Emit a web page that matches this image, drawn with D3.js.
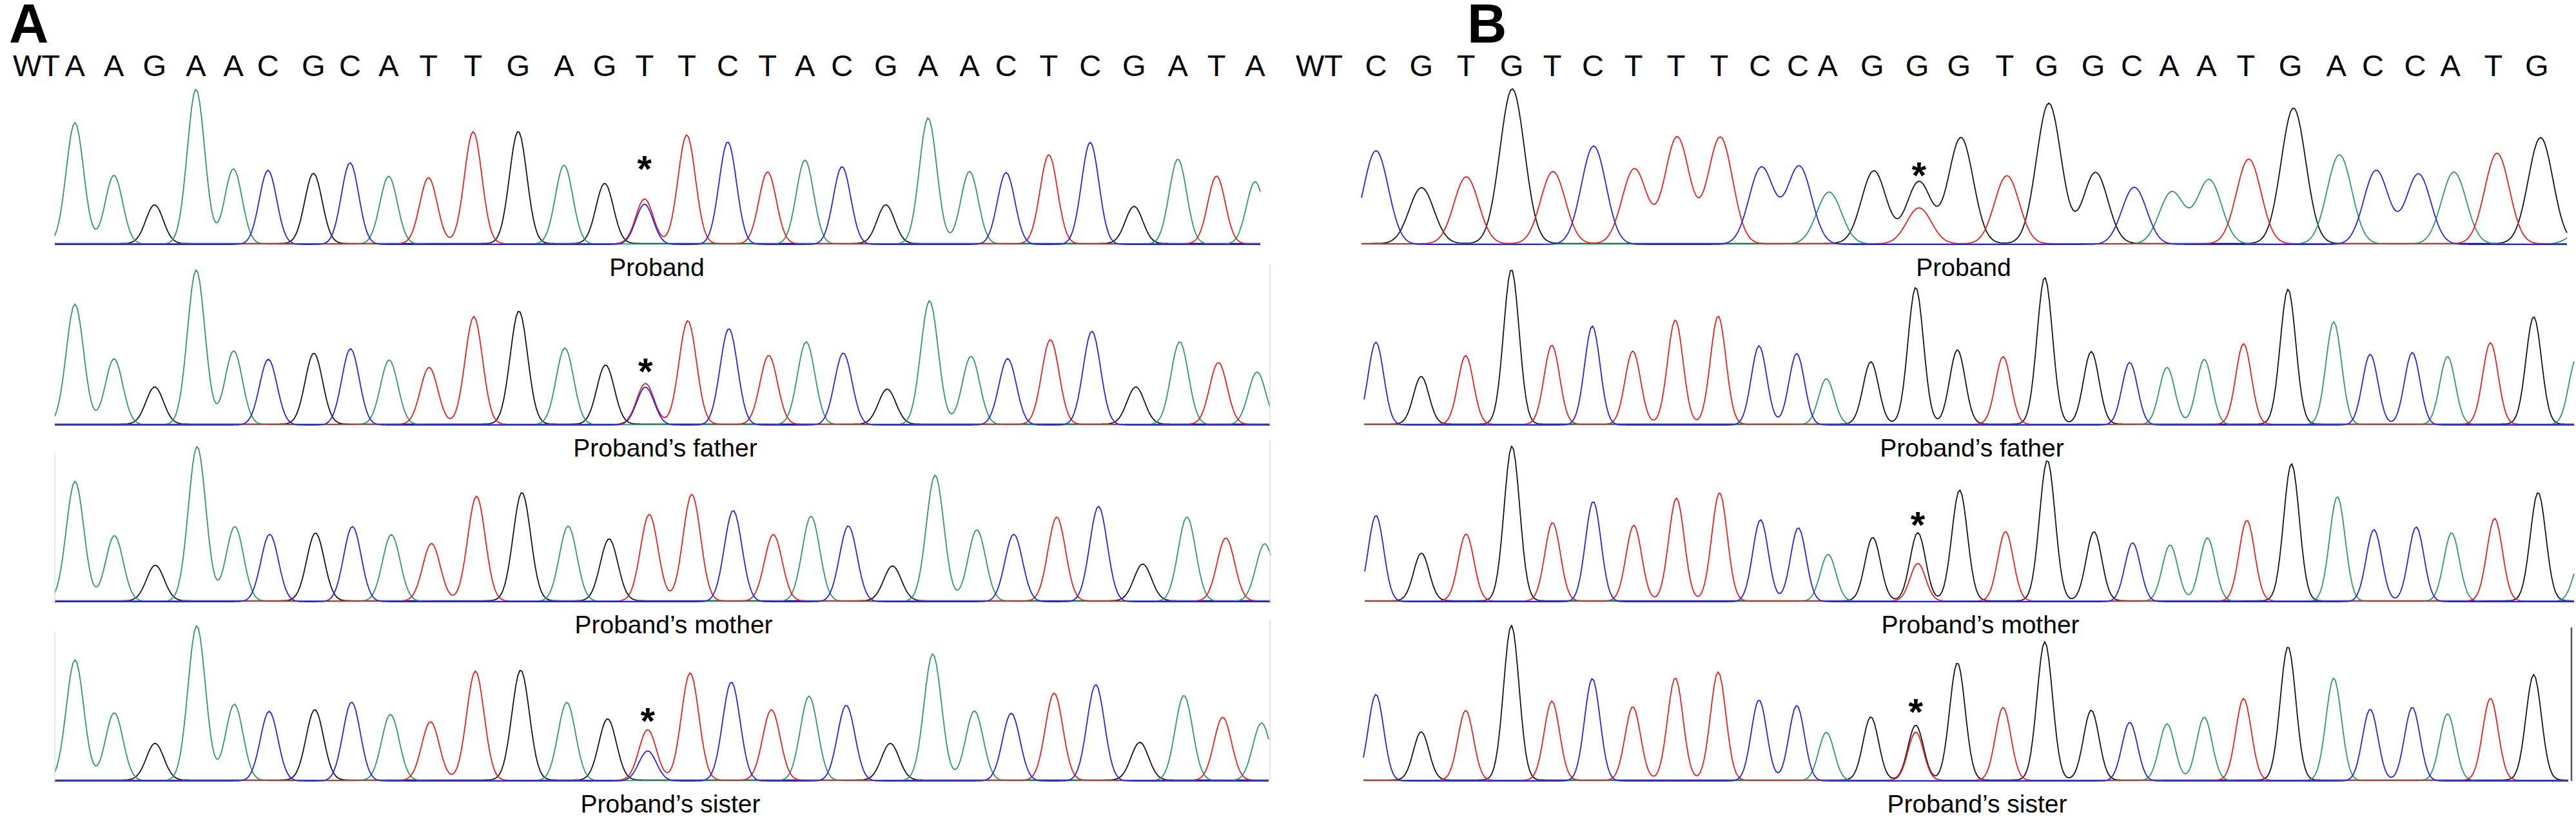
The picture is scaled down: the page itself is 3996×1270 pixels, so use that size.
<!DOCTYPE html>
<html>
<head>
<meta charset="utf-8">
<script src="https://cdn.jsdelivr.net/npm/d3@7"></script>
<style>
  body { margin: 0; background: #fff; }
  text { font-family: "Liberation Sans", Arial, sans-serif; }
</style>
</head>
<body>
<svg id="chart"></svg>
<script>
// ---- data: base calls, peak positions (scan units) and peak heights (relative signal) ----
const seqA = "AAGAACGCATTGAGTTCTACGAACTCGATA".split("");
const posA = [5.0, 14.7, 24.8, 35.1, 44.4, 53.0, 64.3, 73.4, 83.0, 92.9, 104.0, 115.2, 126.6, 136.7, 146.6,
  157.1, 167.3, 177.2, 186.5, 195.7, 206.6, 217.1, 227.4, 236.5, 247.1, 257.4, 268.3, 279.2, 288.8, 298.4];

// last base of B (A) is only the start of a peak at the edge, it is not called
const seqB = "CGTGTCTTTCCAGGGTGGCAATGACCATGA".split("");
const calledB = 29;
const posB = [3.6, 14.9, 26.0, 37.4, 47.5, 57.6, 67.7, 78.3, 89.0, 99.2, 108.6, 116.0, 127.1, 138.3, 148.7,
  160.1, 170.5, 182.1, 191.7, 201.0, 210.3, 220.1, 231.2, 242.6, 251.7, 262.2, 271.0, 281.7, 292.5, 303.2];

const rowNames = ["Proband", "Proband\u2019s father", "Proband\u2019s mother", "Proband\u2019s sister"];

const heightsA = [
  [0.785, 0.444, 0.25, 1.0, 0.486, 0.479, 0.454, 0.528, 0.438, 0.428, 0.725, 0.725, 0.51, 0.389, 0.29,
   0.704, 0.663, 0.465, 0.542, 0.503, 0.25, 0.815, 0.469, 0.465, 0.576, 0.66, 0.24, 0.549, 0.438, 0.403],
  [0.778, 0.425, 0.24, 1.0, 0.476, 0.425, 0.458, 0.493, 0.417, 0.368, 0.696, 0.731, 0.495, 0.382, 0.264,
   0.67, 0.623, 0.446, 0.535, 0.465, 0.226, 0.80, 0.441, 0.429, 0.547, 0.606, 0.24, 0.535, 0.40, 0.34],
  [0.775, 0.424, 0.23, 1.0, 0.483, 0.436, 0.438, 0.486, 0.431, 0.372, 0.678, 0.70, 0.486, 0.40, 0.56,
   0.69, 0.59, 0.43, 0.55, 0.49, 0.225, 0.815, 0.462, 0.436, 0.543, 0.616, 0.237, 0.545, 0.408, 0.372],
  [0.78, 0.438, 0.237, 1.0, 0.493, 0.45, 0.455, 0.51, 0.427, 0.379, 0.706, 0.711, 0.505, 0.396, 0.327,
   0.694, 0.64, 0.457, 0.545, 0.49, 0.237, 0.818, 0.45, 0.438, 0.564, 0.623, 0.244, 0.55, 0.408, 0.372]
];

const heightsB = [
  [0.606, 0.361, 0.433, 1.0, 0.467, 0.636, 0.485, 0.69, 0.69, 0.498, 0.505, 0.336, 0.47, 0.40, 0.685,
   0.44, 0.907, 0.46, 0.37, 0.336, 0.415, 0.548, 0.876, 0.577, 0.479, 0.456, 0.465, 0.586, 0.685, 0.1],
  [0.536, 0.308, 0.445, 1.0, 0.512, 0.64, 0.474, 0.675, 0.70, 0.512, 0.462, 0.296, 0.403, 0.884, 0.48,
   0.438, 0.948, 0.469, 0.405, 0.37, 0.422, 0.521, 0.872, 0.664, 0.457, 0.469, 0.44, 0.528, 0.694, 0.43],
  [0.558, 0.308, 0.434, 1.0, 0.507, 0.648, 0.49, 0.665, 0.70, 0.53, 0.478, 0.303, 0.41, 0.44, 0.716,
   0.449, 0.908, 0.447, 0.381, 0.364, 0.41, 0.522, 0.886, 0.677, 0.466, 0.483, 0.442, 0.534, 0.70, 0.27],
  [0.56, 0.312, 0.452, 1.0, 0.512, 0.662, 0.476, 0.662, 0.70, 0.524, 0.488, 0.312, 0.408, 0.355, 0.758,
   0.471, 0.894, 0.452, 0.379, 0.367, 0.41, 0.529, 0.862, 0.662, 0.464, 0.476, 0.432, 0.531, 0.681, 0]
];

// second (heterozygous) peak under a call
const mixedA = [
  { row: 0, i: 14, base: "C", h: 0.26 },
  { row: 1, i: 14, base: "C", h: 0.245 },
  { row: 3, i: 14, base: "C", h: 0.194 }
];
const mixedB = [
  { row: 0, i: 13, base: "T", h: 0.232 },
  { row: 2, i: 13, base: "T", h: 0.243 },
  { row: 3, i: 13, base: "T", h: 0.312 }
];

// asterisks: base index and height (signal units) of the mark
const starsA = [{ row: 0, i: 14, y: 0.54 }, { row: 1, i: 14, y: 0.40 }, { row: 3, i: 14, y: 0.44 }];
const starsB = [{ row: 0, i: 13, y: 0.50 }, { row: 2, i: 13, y: 0.55 }, { row: 3, i: 13, y: 0.50 }];

// peak width (sigma, scan units) for each trace
const sigmaA = [2.16, 2.16, 2.16, 2.16];
const sigmaB = [3.05, 1.93, 1.93, 1.93];

// ---- layout ----
const W = 3996, H = 1270;
const baselines = [379, 659, 933, 1211];
const peakPx = 240;
const colors = { A: "#2f9a68", C: "#2424ee", G: "#151515", T: "#ee1f1f" };
const drawOrder = ["G", "A", "T", "C"];
const baseOffset = { G: 0.006, A: 0.003, T: 0.0045, C: 0 };
const labelDx = [934, 947, 960, 955];

const panels = [
  { name: "A", seq: seqA, pos: posA, heights: heightsA, mixed: mixedA, stars: starsA, sigma: sigmaA,
    called: seqA.length, x0: 85, x1: 1957, stretch: [0, 3, 15, 10],
    starts: [85, 85, 85, 85], ends: [1955, 1970, 1971, 1968],
    letterX: 14, wtX: 20 },
  { name: "B", seq: seqB, pos: posB, heights: heightsB, mixed: mixedB, stars: starsB, sigma: sigmaB,
    called: calledB, x0: 2112, x1: 3982, stretch: [6, -5, 2, -5],
    starts: [2112, 2116, 2117, 2115], ends: [3982, 3993, 3993, 3984],
    letterX: 2276, wtX: 2010 }
];

const svg = d3.select("#chart").attr("width", W).attr("height", H);
svg.append("rect").attr("width", W).attr("height", H).attr("fill", "#fff");

const line = d3.line().x(d => d[0]).y(d => d[1]).curve(d3.curveLinear);

panels.forEach(p => {
  const xTop = d3.scaleLinear().domain([0, 300]).range([p.x0, p.x1]);

  // panel letter
  svg.append("text")
    .attr("x", p.letterX).attr("y", 66)
    .attr("font-size", 85).attr("font-weight", "bold")
    .text(p.name);

  // wild type reference sequence
  svg.append("text")
    .attr("x", p.wtX).attr("y", 118)
    .attr("font-size", 47)
    .text("WT");
  svg.append("g").selectAll("text")
    .data(p.seq.slice(0, p.called))
    .join("text")
    .attr("x", (d, i) => xTop(p.pos[i]))
    .attr("y", 118)
    .attr("font-size", 47)
    .attr("text-anchor", "middle")
    .text(d => d);

  p.heights.forEach((hs, r) => {
    const x = d3.scaleLinear().domain([0, 300]).range([p.x0, p.x1 + p.stretch[r]]);
    const y = d3.scaleLinear().domain([0, 1]).range([baselines[r], baselines[r] - peakPx]);
    const sig = p.sigma[r];
    const peaks = hs.map((h, i) => ({ base: p.seq[i], pos: p.pos[i], h }));
    p.mixed.filter(m => m.row === r)
      .forEach(m => peaks.push({ base: m.base, pos: p.pos[m.i], h: m.h }));

    const s0 = x.invert(p.starts[r]), s1 = x.invert(p.ends[r]);
    const scans = d3.range(s0, s1, 0.5).concat([s1]);
    const g = svg.append("g").attr("class", "row");

    drawOrder.forEach(b => {
      const own = peaks.filter(k => k.base === b);
      const pts = scans.map(s => {
        const v = d3.sum(own, k => k.h * Math.exp(-((s - k.pos) ** 2) / (2 * sig * sig)));
        return [x(s), y(v + baseOffset[b])];
      });
      g.append("path")
        .attr("d", line(pts))
        .attr("fill", "none")
        .attr("stroke", colors[b])
        .attr("stroke-width", 1.8)
        .attr("stroke-linejoin", "round");
    });

    // asterisks over the heterozygous position
    p.stars.filter(s => s.row === r).forEach(s => {
      g.append("text")
        .attr("x", x(p.pos[s.i]))
        .attr("y", y(s.y) + 33)
        .attr("text-anchor", "middle")
        .attr("font-size", 58)
        .attr("font-weight", "bold")
        .text("*");
    });

    // row caption
    svg.append("text")
      .attr("x", p.x0 + labelDx[r])
      .attr("y", baselines[r] + 49)
      .attr("text-anchor", "middle")
      .attr("font-size", 39)
      .text(rowNames[r]);
  });
});

// faint frame edges left by the trace viewer
const edgeA = svg.append("g").attr("stroke", "#dcdcdc").attr("stroke-width", 1.5);
[1, 2, 3].forEach(r => {
  edgeA.append("line").attr("x1", 1970).attr("x2", 1970)
    .attr("y1", baselines[r] - 250).attr("y2", baselines[r]);
});
[2, 3].forEach(r => {
  edgeA.append("line").attr("x1", 85).attr("x2", 85)
    .attr("y1", baselines[r] - 230).attr("y2", baselines[r]);
});
svg.append("line")
  .attr("x1", 3989).attr("x2", 3989)
  .attr("y1", baselines[3] - 238).attr("y2", baselines[3])
  .attr("stroke", "#555").attr("stroke-width", 2.5);
</script>
</body>
</html>
